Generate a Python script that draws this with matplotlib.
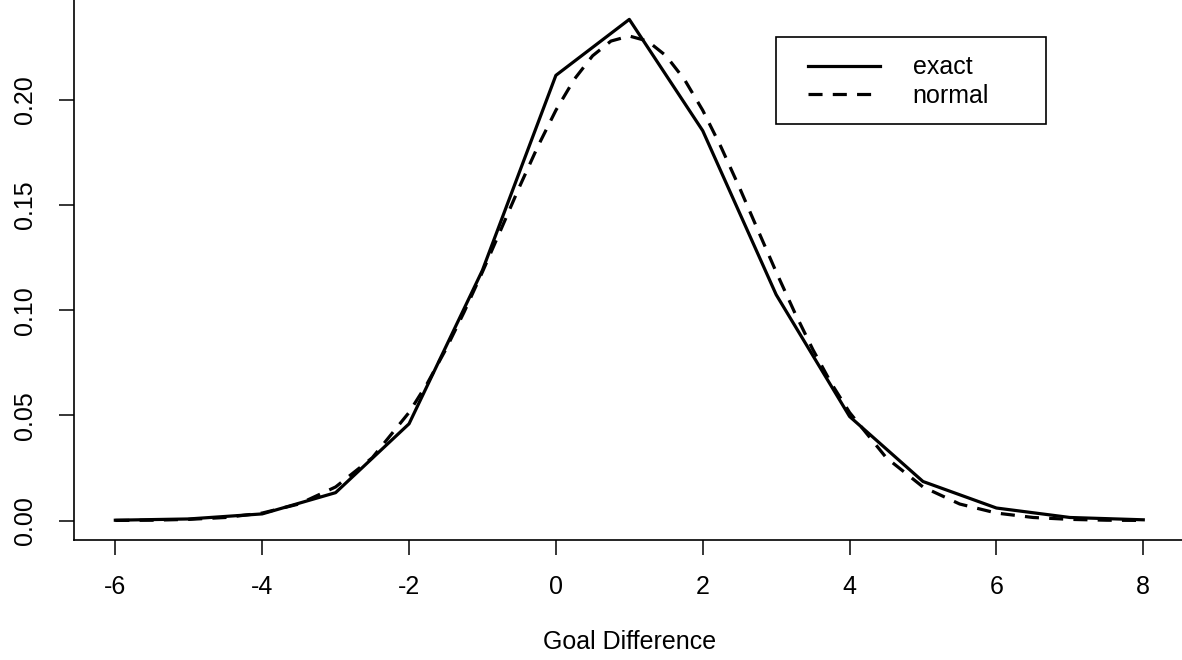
import matplotlib
matplotlib.use('Agg')
import matplotlib.pyplot as plt
from matplotlib.patches import Rectangle

# exact distribution of the goal difference
goal_diff = [-6, -5, -4, -3, -2, -1, 0, 1, 2, 3, 4, 5, 6, 7, 8]
exact_prob = [0.0002, 0.0008, 0.0032, 0.0133, 0.0460, 0.1190, 0.2116, 0.2382,
              0.1853, 0.1074, 0.0495, 0.0186, 0.0060, 0.0015, 0.0004]

# normal approximation (finer sampling around the peak)
normal_x = [-6.0, -5.5, -5.0, -4.5, -4.0, -3.5, -3.0, -2.5,
            -2.0, -1.75, -1.5, -1.25, -1.0, -0.75, -0.5, -0.25,
            0.0, 0.25, 0.5, 0.75, 1.0, 1.25, 1.5, 1.75,
            2.0, 2.25, 2.5, 2.75, 3.0, 3.25, 3.5, 3.75, 4.0,
            4.5, 5.0, 5.5, 6.0, 6.5, 7.0, 7.5, 8.0]
normal_prob = [0.0001, 0.0002, 0.0006, 0.0015, 0.0036, 0.0079, 0.0160, 0.0299,
               0.0514, 0.0653, 0.0813, 0.0991, 0.1182, 0.1382, 0.1583, 0.1775,
               0.1950, 0.2097, 0.2209, 0.2279, 0.2303, 0.2279, 0.2209, 0.2097,
               0.1950, 0.1775, 0.1583, 0.1382, 0.1182, 0.0991, 0.0813, 0.0653,
               0.0514, 0.0299, 0.0160, 0.0079, 0.0036, 0.0015, 0.0006, 0.0002,
               0.0001]

y_ticks = [0.00, 0.05, 0.10, 0.15, 0.20]
x_ticks = [-6, -4, -2, 0, 2, 4, 6, 8]

plt.rcParams['font.family'] = ['Liberation Sans', 'DejaVu Sans']

W, H = 1182, 660
fig = plt.figure(figsize=(W / 100, H / 100), dpi=100)
ax = fig.add_axes([74.2 / W, 120 / H, 1110.2 / W, 540.6 / H])

ax.plot(goal_diff, exact_prob, color='black', lw=2.3, label='exact')
ax.plot(normal_x, normal_prob, color='black', lw=2.3, dashes=(4.4, 3.2),
        label='normal')

# R style axis ranges (4% extension)
ax.set_xlim(-6.56, 8.56)
ax.set_ylim(-0.0092, 0.2477)

ax.set_xticks(x_ticks)
ax.set_xticklabels([str(v) for v in x_ticks])
ax.set_yticks(y_ticks)
ax.set_yticklabels([f'{v:.2f}' for v in y_ticks])

ax.tick_params(axis='both', length=11, width=1.1, labelsize=18, color='black')
ax.tick_params(axis='x', pad=14)
ax.tick_params(axis='y', pad=16)
for lab in ax.get_yticklabels():
    lab.set_rotation(90)
    lab.set_va('center')

for sp in ax.spines.values():
    sp.set_linewidth(1.2)

ax.set_xlabel('Goal Difference', fontsize=18, va='center')
ax.xaxis.set_label_coords(0.5, -0.189)

# legend entries without frame, box drawn separately (R legend proportions)
leg = ax.legend(loc='center left', bbox_to_anchor=(808 / W, 1 - 81.5 / H),
                bbox_transform=fig.transFigure, borderaxespad=0, fontsize=18,
                frameon=False, handlelength=2.88, handletextpad=1.3,
                borderpad=0, labelspacing=0.17)
box = Rectangle((775.7 / W, 1 - 124 / H), 270.3 / W, 86.7 / H,
                transform=fig.transFigure, fill=False, edgecolor='black',
                lw=1.2, zorder=5)
fig.patches.append(box)

fig.savefig('out.png', dpi=100)
